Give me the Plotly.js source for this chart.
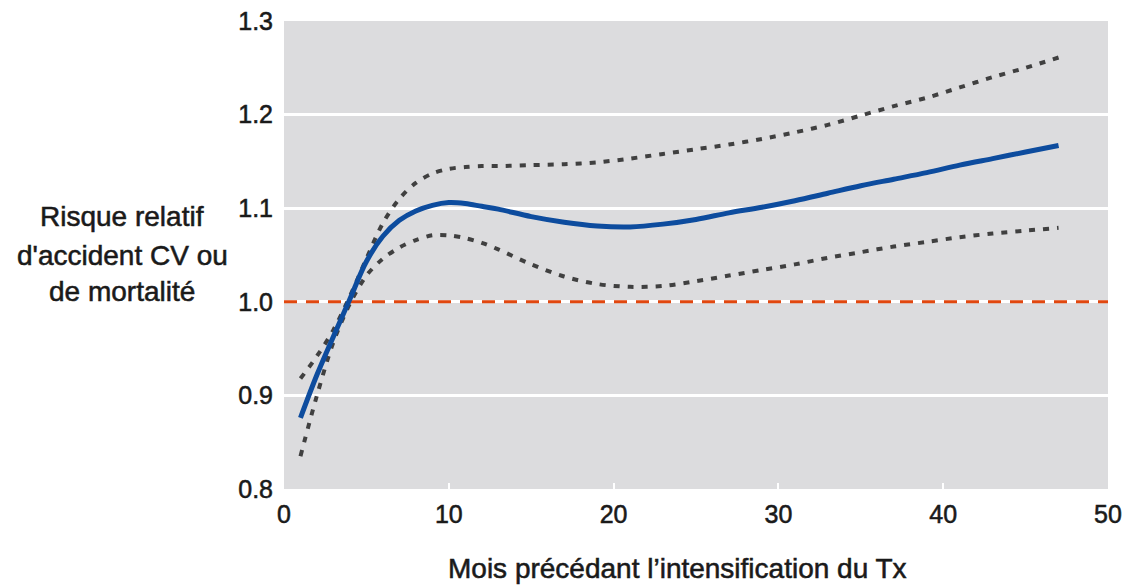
<!DOCTYPE html>
<html>
<head>
<meta charset="utf-8">
<script src="https://cdn.plot.ly/plotly-3.0.1.min.js"></script>
<style>
  html, body { margin: 0; padding: 0; background: #ffffff; }
  #chart { width: 1125px; height: 586px; }
  /* slightly heavier glyphs for all labels */
  #chart svg text { stroke: #1a1a1a; stroke-width: 0.55px; }
</style>
</head>
<body>
<div id="chart"></div>
<script>
// Months before treatment intensification
const months = [1, 2, 3, 4, 5, 6, 7, 8, 9, 10, 11, 12, 13, 15, 17, 19, 21, 23, 25, 27, 29, 31, 33, 35, 37, 39, 41, 43, 45, 47];

// Relative risk estimate
const riskEstimate = [0.876, 0.922, 0.963, 1.003, 1.043, 1.070, 1.087, 1.097, 1.103, 1.106, 1.105, 1.102, 1.099, 1.091, 1.085, 1.081, 1.080, 1.083, 1.088, 1.095, 1.101, 1.108, 1.116, 1.124, 1.131, 1.138, 1.146, 1.153, 1.160, 1.167];

// Confidence band
const upperBound = [0.918, 0.942, 0.970, 1.006, 1.046, 1.084, 1.110, 1.127, 1.137, 1.142, 1.144, 1.145, 1.145, 1.146, 1.147, 1.149, 1.153, 1.158, 1.163, 1.168, 1.174, 1.181, 1.189, 1.199, 1.209, 1.218, 1.229, 1.240, 1.250, 1.261];
const lowerBound = [0.835, 0.900, 0.957, 0.998, 1.028, 1.046, 1.058, 1.066, 1.071, 1.071, 1.068, 1.063, 1.056, 1.040, 1.027, 1.019, 1.016, 1.017, 1.022, 1.028, 1.034, 1.040, 1.047, 1.053, 1.059, 1.064, 1.069, 1.073, 1.076, 1.079];

// Reference line (no effect)
const refX = [0, 50];
const refY = [1.0, 1.0];

// Axis ticks
const xTicks = [0, 10, 20, 30, 40, 50];
const yTicks = [0.8, 0.9, 1.0, 1.1, 1.2, 1.3];

// Axis titles
const xTitle = "Mois précédant l’intensification du Tx";
const yTitleLines = ["Risque relatif", "d'accident CV ou", "de mortalité"];

const FONT = "Liberation Sans, Arial, sans-serif";
const TEXT = "#1a1a1a";

const traces = [
  {
    x: refX, y: refY, mode: "lines", hoverinfo: "skip",
    line: { color: "#e1470f", width: 3, dash: "13px,9px" }
  },
  {
    x: months, y: upperBound, mode: "lines",
    line: { color: "#404040", width: 4, dash: "6px,8px", shape: "spline", smoothing: 0.9 }
  },
  {
    x: months, y: lowerBound, mode: "lines",
    line: { color: "#404040", width: 4, dash: "6px,8px", shape: "spline", smoothing: 0.9 }
  },
  {
    x: months, y: riskEstimate, mode: "lines",
    line: { color: "#0d4c9e", width: 5, shape: "spline", smoothing: 1 }
  }
];

const yTitleY = [217, 255, 291];
const plotTop = 21, plotBottom = 489, plotLeft = 284, plotRight = 1108;
const toPaperY = py => (plotBottom - py) / (plotBottom - plotTop);
const toPaperX = px => (px - plotLeft) / (plotRight - plotLeft);

const annotations = yTitleLines.map((t, i) => ({
  text: t, xref: "paper", yref: "paper",
  x: toPaperX(122), y: toPaperY(yTitleY[i]),
  xanchor: "center", yanchor: "middle", showarrow: false,
  font: { family: FONT, size: 28, color: TEXT }
}));
annotations.push({
  text: xTitle, xref: "paper", yref: "paper",
  x: toPaperX(677), y: toPaperY(568),
  xanchor: "center", yanchor: "middle", showarrow: false,
  font: { family: FONT, size: 28, color: TEXT }
});

const layout = {
  width: 1125, height: 586,
  margin: { l: plotLeft, r: 1125 - plotRight, t: plotTop, b: 586 - plotBottom, pad: 0 },
  paper_bgcolor: "#ffffff",
  plot_bgcolor: "#dcdcde",
  showlegend: false,
  font: { family: FONT, color: TEXT },
  xaxis: {
    range: [0, 50], tickvals: xTicks, ticktext: xTicks.map(String),
    ticks: "inside", ticklen: 6, tickwidth: 2, tickcolor: "#ffffff",
    showgrid: false, zeroline: false, showline: false,
    tickfont: { family: FONT, size: 25, color: TEXT },
    ticklabelstandoff: 8
  },
  yaxis: {
    range: [0.8, 1.3], tickvals: yTicks, ticktext: yTicks.map(v => v.toFixed(1)),
    showgrid: true, gridcolor: "#ffffff", gridwidth: 3,
    zeroline: false, showline: false, ticks: "",
    tickfont: { family: FONT, size: 25, color: TEXT },
    ticklabelstandoff: 10
  },
  annotations: annotations
};

Plotly.newPlot("chart", traces, layout, { staticPlot: true, displayModeBar: false });
</script>
</body>
</html>
